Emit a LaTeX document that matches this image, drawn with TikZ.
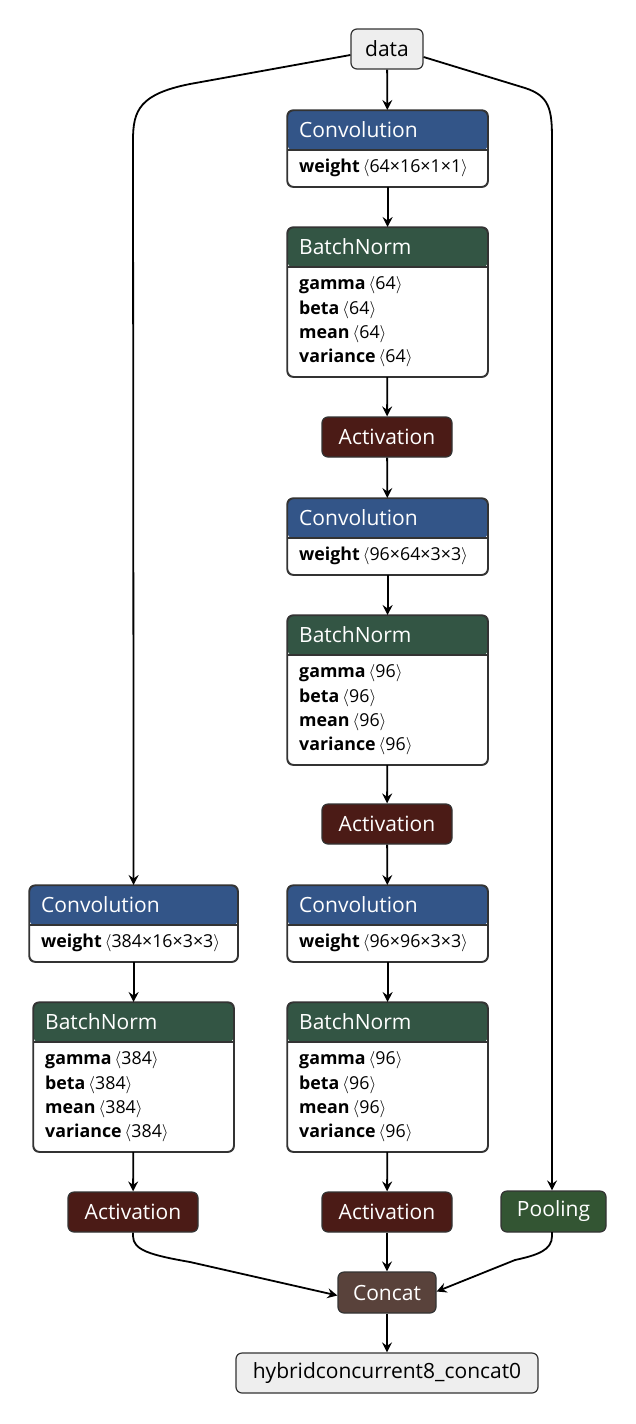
\documentclass[tikz,border=0pt]{standalone}
\usepackage{fontspec}
\setmainfont{Open Sans}
\usetikzlibrary{arrows.meta}
\definecolor{convc}{HTML}{335588}
\definecolor{normc}{HTML}{335544}
\definecolor{actc}{HTML}{4B1B16}
\definecolor{poolc}{HTML}{335533}
\definecolor{catc}{HTML}{59423B}
\definecolor{bdc}{HTML}{333333}
\definecolor{ioc}{HTML}{EEEEEE}
\tikzset{
  edge/.style={line width=1.8, -{Stealth[length=10,width=10,inset=3.5]}},
  lbox/.style={draw=bdc, line width=1.2, rounded corners=6, fill=white, anchor=north west, inner sep=0},
  sbox/.style={draw=bdc, line width=1.2, rounded corners=6, inner sep=0, minimum height=40, font=\fontsize{21}{24}\selectfont},
  htext/.style={anchor=west, text=white, inner sep=0, font=\fontsize{21}{24}\selectfont},
  ptext/.style={anchor=west, inner sep=0, font=\fontsize{17.8}{20}\selectfont},
}
\newcommand\layerbox[7]{%
  \node[lbox, minimum width=#4, minimum height=#5,
    path picture={\fill[#6] (path picture bounding box.north west) rectangle ([yshift=-40]path picture bounding box.north east);}] (#1) at (#2,#3) {};
  \draw[draw=bdc, line width=1.2] ([yshift=-40]#1.north west) -- ([yshift=-40]#1.north east);
  \draw[draw=bdc, line width=1.2, rounded corners=6] (#1.north west) rectangle (#1.south east);
  \node[htext] (#1t) at ([xshift=12,yshift=-20]#1.north west) {#7};
}
\newcommand\prow[4]{%
  \node[ptext] (#1p#2) at ([xshift=12,yshift={-58-#2*24.4}]#1.north west) {\textbf{#3}\,$\langle$#4$\rangle$};
}
\newcommand\convbox[5]{%
  \layerbox{#1}{#2}{#3}{#4}{76}{convc}{Convolution}
  \prow{#1}{0}{weight}{#5}
}
\newcommand\bnbox[4]{%
  \layerbox{#1}{#2}{#3}{200}{149}{normc}{BatchNorm}
  \prow{#1}{0}{gamma}{#4}
  \prow{#1}{1}{beta}{#4}
  \prow{#1}{2}{mean}{#4}
  \prow{#1}{3}{variance}{#4}
}
\begin{document}
\begin{tikzpicture}[x=1pt,y=-1pt]
\useasboundingbox (0,0) rectangle (636,1424);
% input
\node[sbox, fill=ioc, minimum width=72] (data) at (387,49) {data};
% center column
\convbox{c1}{287}{110}{200}{64×16×1×1}
\bnbox{b1}{287}{227}{64}
\node[sbox, fill=actc, text=white, minimum width=130] (a1) at (387,437) {Activation};
\convbox{c2}{287}{498}{200}{96×64×3×3}
\bnbox{b2}{287}{615}{96}
\node[sbox, fill=actc, text=white, minimum width=130] (a2) at (387,824) {Activation};
\convbox{c3}{287}{885}{200}{96×96×3×3}
\bnbox{b3}{287}{1002}{96}
\node[sbox, fill=actc, text=white, minimum width=130] (a3) at (387,1212) {Activation};
% left column
\convbox{lc}{29}{885}{208}{384×16×3×3}
\bnbox{lb}{33}{1002}{384}
\node[sbox, fill=actc, text=white, minimum width=130] (la) at (133,1212) {Activation};
% right
\node[sbox, fill=poolc, text=white, minimum width=105, minimum height=41] (po) at (553.5,1211.5) {Pooling};
% concat + output
\node[sbox, fill=catc, text=white, minimum width=98, minimum height=41] (cc) at (387,1292.5) {Concat};
\node[sbox, fill=ioc, minimum width=302] (out) at (387,1373) {hybridconcurrent8\_concat0};
% edges
\draw[edge] (data) -- (c1);
\draw[edge] (c1) -- (b1);
\draw[edge] (b1) -- (a1);
\draw[edge] (a1) -- (c2);
\draw[edge] (c2) -- (b2);
\draw[edge] (b2) -- (a2);
\draw[edge] (a2) -- (c3);
\draw[edge] (c3) -- (b3);
\draw[edge] (b3) -- (a3);
\draw[edge] (a3) -- (cc);
\draw[edge] (cc) -- (out);
\draw[edge] (lc.south -| lb.north) -- (lb.north);
\draw[edge] (lb) -- (la);
\draw[edge] ([yshift=-6]data.west) -- (190,84) .. controls (140,94) and (133,110) .. (133,140) -- (lc.north -| lb.north);
\draw[edge] ([yshift=-8]data.east) -- (525,88) .. controls (550,96) and (552,110) .. (552,140) -- (po.north -| 552,0);
\draw[edge] (la.south) -- (133,1236) .. controls (133,1250) and (150,1255) .. (190,1262) -- ([yshift=-3]cc.west);
\draw[edge] (552,1232) -- (552,1236) .. controls (552,1250) and (538,1255) .. (515,1260) -- ([yshift=1]cc.east);
\end{tikzpicture}
\end{document}
